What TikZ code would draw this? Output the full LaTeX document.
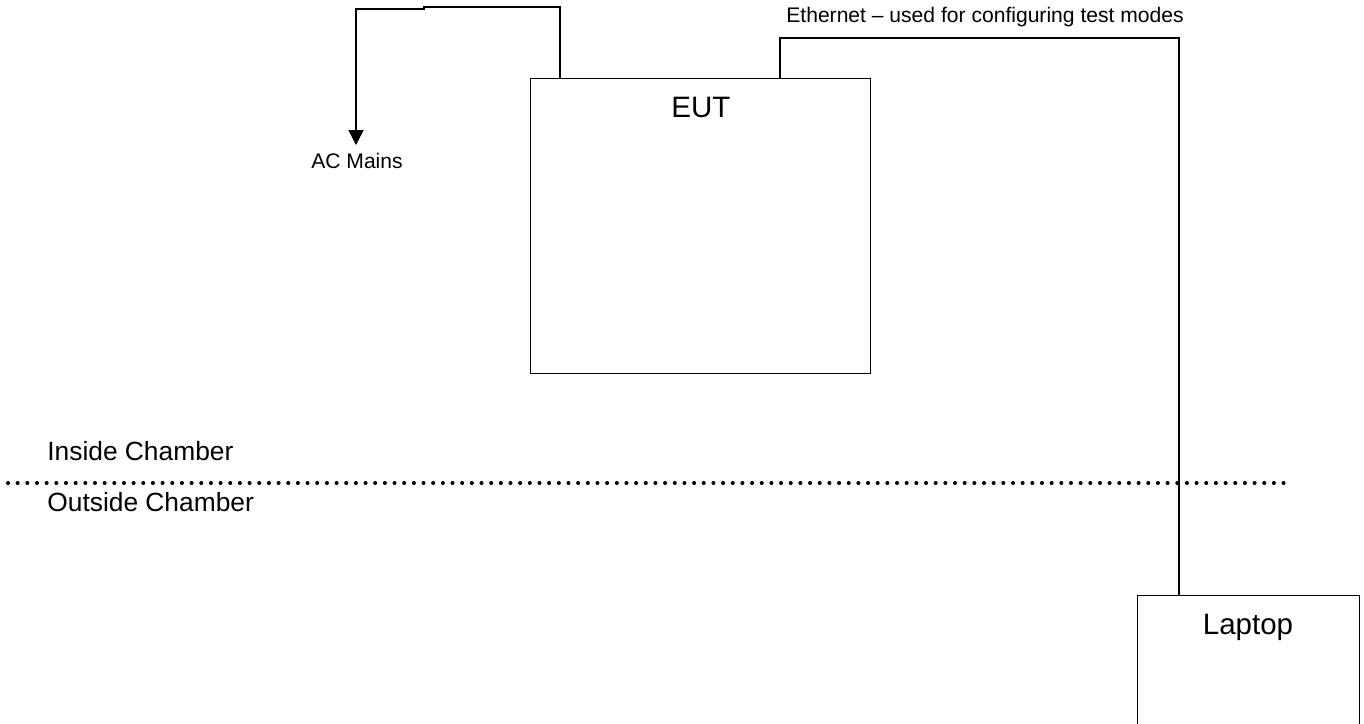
\documentclass[tikz,border=0pt]{standalone}
\usepackage{fontspec}
\setmainfont{Liberation Sans}
\usetikzlibrary{arrows.meta, calc}
\tikzset{
  unit box/.style={
    draw=black,
    line width=0.8pt,
    rectangle,
    inner sep=0pt
  },
  cable/.style={
    -,
    line width=0.8pt,
    color=black
  },
  mains cable/.style={
    -{Triangle[length=8.5pt, width=8.5pt]},
    line width=0.8pt,
    color=black
  },
  chamber wall/.style={
    line width=2.3pt,
    line cap=round,
    dash pattern=on 0pt off 5.5pt
  },
  box label/.style={
    font=\fontsize{16.8}{18}\selectfont,
    anchor=base,
    inner sep=0pt
  },
  zone label/.style={
    font=\fontsize{15}{17}\selectfont,
    anchor=base west,
    inner sep=0pt
  },
  cable label/.style={
    font=\fontsize{12}{14}\selectfont,
    anchor=base,
    inner sep=0pt
  }
}
\begin{document}
\begin{tikzpicture}[x=0.02cm, y=-0.02cm]

  %% ---- Bildrand (Pixelmaße der Vorlage) ----
  \useasboundingbox (0,0) rectangle (1364,723);
  \clip (0,0) rectangle (1364,723);

  %% ---- Geräte ----
  \node[unit box, minimum width=6.8cm, minimum height=5.9cm, anchor=north west]
      (eut) at (530,78) {};
  \node[box label] (eut label) at (701,117) {EUT};

  % Laptop ragt unten aus dem Bild
  \node[unit box, minimum width=4.44cm, minimum height=3.2cm, anchor=north west]
      (laptop) at (1137,595) {};
  \node[box label] (laptop label) at (1248,634) {Laptop};

  %% ---- Netzkabel ----
  \coordinate (ac top)   at (560,7);
  \coordinate (ac step)  at (424,9);
  \coordinate (ac mains) at (356,145);
  \draw[mains cable] ($ (eut.north west)+(30,0) $) -- (ac top)
      -- (ac top -| ac step) -- (ac step) -- (ac step -| ac mains) -- (ac mains);
  \node[cable label] (ac label) at (357,168) {AC Mains};

  %% ---- Ethernet zum Laptop ----
  \coordinate (eth corner) at (1179,38);
  \draw[cable] ($ (eut.north west)+(250,0) $) |- (eth corner)
      -- (eth corner |- laptop.north);
  \node[cable label] (eth label) at (985,23)
      {Ethernet -- used for configuring test modes};

  %% ---- Kammerwand ----
  \coordinate (wall left)  at (8,483);
  \coordinate (wall right) at (1290,483);
  \draw[chamber wall] (wall left) -- (wall right);
  \node[zone label] (inside)  at (47,460) {Inside Chamber};
  \node[zone label] (outside) at (47,511) {Outside Chamber};

\end{tikzpicture}
\end{document}
